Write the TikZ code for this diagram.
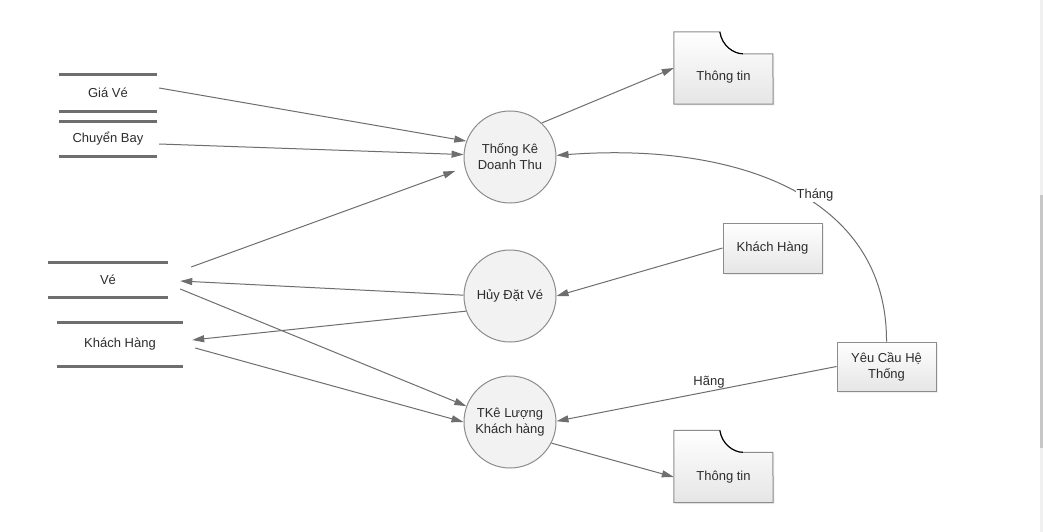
\documentclass[tikz,border=0pt]{standalone}
\usepackage{fontspec}
\setmainfont{Liberation Sans}
\usetikzlibrary{arrows.meta,calc,shadows}
\definecolor{linegray}{RGB}{110,110,110}
\definecolor{bordergray}{RGB}{140,140,140}
\definecolor{fillgray}{RGB}{242,242,242}
\definecolor{txt}{RGB}{45,45,45}
\tikzset{
  proc/.style={circle, draw=bordergray, line width=1pt, fill=fillgray, minimum size=92pt, inner sep=0pt, align=center, text=txt},
  storenode/.style={draw=none, inner sep=0pt, text=txt},
  storeline/.style={draw=linegray, line width=3pt},
  entbox/.style={rectangle, draw=bordergray, line width=1pt, top color=white, bottom color=black!10, align=center, text=txt, inner sep=0pt, drop shadow={opacity=0.12, shadow xshift=1.5pt, shadow yshift=-1.5pt}},
  docnode/.style={draw=none, inner sep=0pt, minimum width=99pt, minimum height=72pt},
  docline/.style={draw=bordergray, line width=1pt, top color=white, bottom color=black!10},
  flow/.style={draw=linegray, line width=1pt, -{Triangle[length=12pt,width=7pt]}},
  lbl/.style={text=txt, inner sep=1pt},
}
\begin{document}
\begin{tikzpicture}[x=1pt, y=-1pt, font=\fontsize{13}{16}\selectfont]
\useasboundingbox (0,0) rectangle (1043,532);
\fill[white] (0,0) rectangle (1043,532);
\fill[black!6] (1040,0) rectangle (1043,532);
\fill[black!22] (1040,195) rectangle (1043,448);

% data stores
\node[storenode, minimum width=98pt, minimum height=36pt] (gia) at (108,93) {Giá Vé};
\node[storenode, minimum width=98pt, minimum height=34pt] (chb) at (108,139) {Chuyển Bay};
\node[storenode, minimum width=120pt, minimum height=34pt] (ve) at (108,280) {Vé};
\node[storenode, minimum width=126pt, minimum height=43pt] (khs) at (120,344.5) {Khách Hàng};
\foreach \s in {gia,chb,ve,khs}{
  \draw[storeline] (\s.north west) -- (\s.north east);
  \draw[storeline] (\s.south west) -- (\s.south east);
}

% processes
\node[proc] (tk) at (510,157) {Thống Kê\\Doanh Thu};
\node[proc] (huy) at (510,296) {Hủy Đặt Vé};
\node[proc] (tkl) at (510,422) {TKê Lượng\\Khách hàng};

% entities
\node[entbox, minimum width=99pt, minimum height=50pt] (khbox) at (772.5,248) {Khách Hàng};
\node[entbox, minimum width=99pt, minimum height=49pt] (yc) at (886.5,366.5) {Yêu Cầu Hệ\\Thống};

% documents
\node[docnode] (info1) at (723.5,68) {};
\node[docnode] (info2) at (723.5,466.5) {};
\foreach \d in {info1,info2}{
  \path[docline, drop shadow={opacity=0.12, shadow xshift=1.5pt, shadow yshift=-1.5pt}]
    (\d.south west) -- (\d.north west) -- ++(46,0)
    .. controls +(2,14) and +(-9,0) .. ++(23,22) -- ++(30,0)
    -- (\d.south east) -- cycle;
  \draw[black, line width=1.1pt] ($(\d.north west)+(46,0)$) .. controls +(2,14) and +(-9,0) .. ++(23,22);
}
\node[text=txt] (t1) at ($(info1.center)+(0,9)$) {Thông tin};
\node[text=txt] (t2) at ($(info2.center)+(0,10.5)$) {Thông tin};

% flows
\draw[flow] ($(gia.east)+(2,-5)$) -- (tk.160);
\draw[flow] ($(chb.east)+(2,5)$) -- (tk.177);
\draw[flow, shorten >=10pt] ($(ve.east)+(23,-13)$) -- (tk.193);
\draw[flow] (tk.47) -- (info1.west);
\draw[flow] (huy.179) -- ($(ve.east)+(12,1)$);
\draw[flow] (huy.199) -- ($(khs.east)+(9,-4.5)$);
\draw[flow] ($(ve.east)+(12,9)$) -- (tkl.160);
\draw[flow] ($(khs.east)+(12,3.5)$) -- (tkl.180);
\draw[flow] (khbox.west) -- (huy.0);
\draw[flow] (yc.west) -- (tkl.1);
\draw[flow] (tkl.-27) -- ($(info2.west)+(0,10.5)$);
\draw[flow] (yc.north) .. controls (887,195) and (735,142) .. (tk.2);

% labels
\node[lbl, fill=white] (thang) at (815,195) {Tháng};
\node[lbl] (hang) at (709,382) {Hãng};
\end{tikzpicture}
\end{document}
